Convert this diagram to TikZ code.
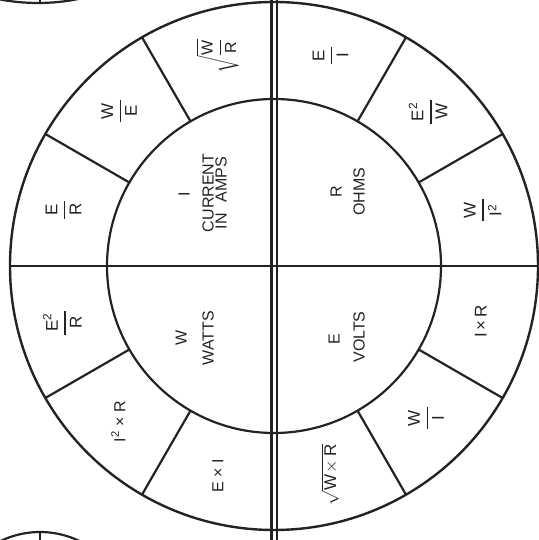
\documentclass[tikz,border=0pt]{standalone}
\usepackage{amsmath}
\usepackage{fontspec}
\setmainfont{Liberation Sans}
\setsansfont{Liberation Sans}
\definecolor{ink}{HTML}{262224}
\newcommand\myfr[2]{$\displaystyle\genfrac{}{}{1.4pt}{0}{\mathrm{\,#1\,}}{\mathrm{\,#2\,}}$}
\begin{document}
\begin{tikzpicture}[x=1pt,y=1pt,line width=2.2pt,color=ink,
  lbl/.style={rotate=90,inner sep=0pt,text=ink,font=\fontsize{16}{16}\selectfont},
  frl/.style={lbl,font=\fontsize{17}{17}\selectfont},
  ring/.style={line width=2.4pt}]
\useasboundingbox (0,0) rectangle (538,540);
\coordinate (C) at (274,274);
% neighbouring fragments at the corners
\begin{scope}
  \clip (0,0) rectangle (538,540);
  \draw (38,740) circle[radius=203pt];
  \draw (40,-82) circle[radius=90pt];
  \coordinate (t1) at (40,537); \coordinate (t2) at (40,540);
  \coordinate (b1) at (40,8); \coordinate (b2) at (40,0);
  \draw (t1) -- (t2);
  \draw (b1) -- (b2);
\end{scope}
% wheel
\draw[ring] (C) circle[radius=264pt];
\draw (C) circle[radius=167pt];
\coordinate (L) at ([shift={(180:264pt)}]C);
\coordinate (Rr) at ([shift={(0:264pt)}]C);
\draw (L) -- (Rr);
\coordinate (v1t) at (271.5,540); \coordinate (v1b) at (271.5,0);
\coordinate (v2t) at (277,540); \coordinate (v2b) at (277,0);
\draw (v1t) -- (v1b);
\draw (v2t) -- (v2b);
\foreach \a in {30,60,120,150,210,240,300,330}
  \draw ([shift={(\a:167pt)}]C) -- ([shift={(\a:264pt)}]C);
% inner labels
\node[lbl] (I) at (184,346) {I};
\node[lbl] (cur) at (208,347) {CURRENT};
\node[lbl] (amps) at (221,347) {IN\hspace{0.7em}AMPS};
\node[lbl] (R) at (336,348) {R};
\node[lbl] (ohms) at (359,348) {OHMS};
\node[lbl] (E) at (334,201) {E};
\node[lbl] (volts) at (359,203) {VOLTS};
\node[lbl] (W) at (181,202) {W};
\node[lbl] (watts) at (208,202) {WATTS};
% outer labels
\node[frl] (f75) at ([shift={(75:218pt)}]C) {\myfr{E}{I}};
\node[frl] (f45) at ([shift={(45:218pt)}]C) {\myfr{E^2}{W}};
\node[frl] (f15) at ([shift={(15:216pt)}]C) {\myfr{W}{I^2}};
\node[frl] (f345) at ([shift={(-15:214pt)}]C) {I\,×\,R};
\node[frl] (f315) at ([shift={(-45:215pt)}]C) {\myfr{W}{I}};
\node[frl] (f285) at ([shift={(-75:216pt)}]C) {$\sqrt{\mathrm{W\!\times R}}$};
\node[lbl] (f255) at ([shift={(-105:217pt)}]C) {E × I};
\node[lbl] (f225) at ([shift={(-135:220pt)}]C) {I\textsuperscript{2} × R};
\node[frl] (f195) at ([shift={(-165:219pt)}]C) {\myfr{E^2}{R}};
\node[frl] (f165) at ([shift={(165:218pt)}]C) {\myfr{E}{R}};
\node[frl] (f135) at ([shift={(135:219pt)}]C) {\myfr{W}{E}};
\node[lbl] (f105) at ([shift={(105:217pt)}]C) {$\sqrt{\genfrac{}{}{1.1pt}{0}{\mathrm{W}}{\mathrm{R}}}$};
\end{tikzpicture}
\end{document}
